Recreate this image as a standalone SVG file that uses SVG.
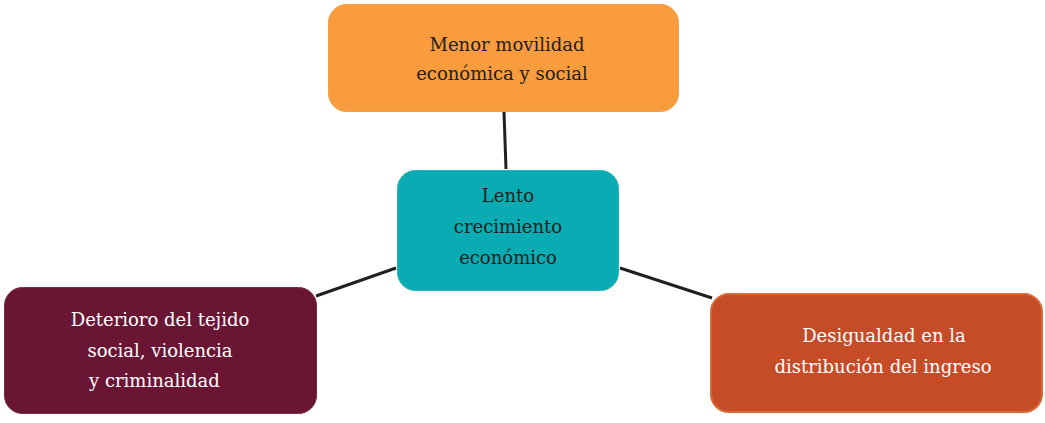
<svg xmlns="http://www.w3.org/2000/svg" width="1045" height="423" viewBox="0 0 1045 423">
<style>
.t{font-family:'DejaVu Serif','Liberation Serif',serif;font-size:18px;text-anchor:middle}
.dk{fill:#231f20}
.lt{fill:#ffffff}
.c{stroke:#231f20;stroke-width:3;fill:none}
</style>
<rect width="1045" height="423" fill="#ffffff"/>
<g id="connectors">
<line class="c" x1="504" y1="112" x2="506" y2="169"/>
<line class="c" x1="316" y1="296" x2="396" y2="268"/>
<line class="c" x1="620" y1="268" x2="712" y2="298"/>
</g>
<g id="node-top">
<rect x="328.5" y="4.5" width="350" height="107" rx="18" fill="#f89c3e" stroke="#f5a04a" stroke-width="1"/>
<text class="t dk" x="507" y="51">Menor movilidad</text>
<text class="t dk" x="502" y="80">económica y social</text>
</g>
<g id="node-center">
<rect x="397.5" y="170.5" width="221" height="120" rx="18" fill="#0aacb4" stroke="#2ab3ba" stroke-width="1"/>
<text class="t dk" x="508" y="202">Lento</text>
<text class="t dk" x="508" y="233">crecimiento</text>
<text class="t dk" x="508" y="264">económico</text>
</g>
<g id="node-left">
<rect x="4.5" y="287.5" width="312" height="126" rx="18" fill="#6b1535" stroke="#7a2a45" stroke-width="1"/>
<text class="t lt" x="160" y="326">Deterioro del tejido</text>
<text class="t lt" x="160" y="357">social, violencia</text>
<text class="t lt" x="89" y="387" style="text-anchor:start">y criminalidad</text>
</g>
<g id="node-right">
<rect x="711" y="294" width="331" height="118" rx="18" fill="#c64b27" stroke="#d66a36" stroke-width="2"/>
<text class="t lt" x="884" y="342">Desigualdad en la</text>
<text class="t lt" x="883" y="373">distribución del ingreso</text>
</g>
</svg>
